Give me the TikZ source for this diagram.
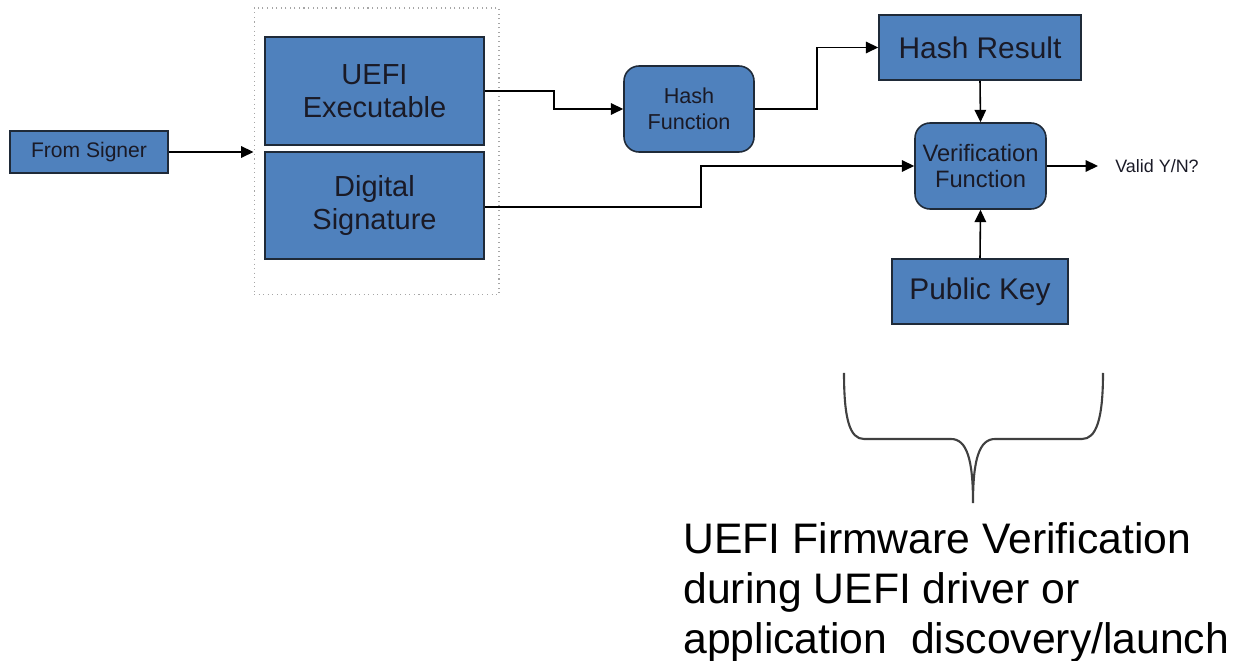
\documentclass[tikz,border=0pt]{standalone}
\usepackage{fontspec}
\setmainfont{Liberation Sans}
\usetikzlibrary{arrows.meta,positioning}
\definecolor{boxblue}{HTML}{4F81BD}
\definecolor{boxline}{HTML}{1F2A38}
\definecolor{txt}{HTML}{1A1A26}
\definecolor{bracegrey}{HTML}{404040}
\tikzset{
  blk/.style={draw=boxline, line width=0.9pt, fill=boxblue, text=txt, align=center, inner sep=0pt},
  rblk/.style={blk, rounded corners=0.3cm},
  arr/.style={draw=black, line width=0.9pt, -{Triangle[length=7pt,width=6.5pt]}},
  grpbox/.style={draw=gray!70, dotted, line width=0.6pt, inner sep=0pt},
}
\begin{document}
\begin{tikzpicture}[x=0.02cm,y=-0.02cm]
\useasboundingbox (0,0) rectangle (1240,661);
% group box
\node[grpbox, minimum width=4.9cm, minimum height=5.74cm] (grp) at (376.5,151.5) {};
% boxes
\node[blk, minimum width=3.16cm, minimum height=0.84cm, font=\fontsize{12}{14}\selectfont] (fs) at (89,152) {From Signer};
\node[blk, minimum width=4.38cm, minimum height=2.16cm, font=\fontsize{16.5}{18.5}\selectfont] (ue) at (374.5,91) {UEFI\\Executable};
\node[blk, minimum width=4.38cm, minimum height=2.14cm, font=\fontsize{16.5}{18.5}\selectfont] (ds) at (374.5,205.5) {Digital\\Signature};
\node[rblk, minimum width=2.6cm, minimum height=1.72cm, font=\fontsize{12.3}{14.8}\selectfont] (hf) at (689,109) {Hash\\Function};
\node[blk, minimum width=4.04cm, minimum height=1.3cm, font=\fontsize{17}{19}\selectfont] (hr) at (980,47.5) {Hash Result};
\node[rblk, minimum width=2.62cm, minimum height=1.72cm, font=\fontsize{13.5}{14.8}\selectfont] (vf) at (980.5,166) {Verification\\Function};
\node[blk, minimum width=3.52cm, minimum height=1.3cm, font=\fontsize{17}{19}\selectfont] (pk) at (980,291.5) {Public Key};
\node[anchor=west, inner xsep=0.34cm, inner ysep=0pt, text=txt, font=\fontsize{10.2}{12}\selectfont] (valid) at (1098,166) {Valid Y/N?};
% connectors
\draw[arr] (fs.east) -- (fs.east -| grp.west);
\draw[arr] (ue.east) -- ++(69,0) |- (hf.west);
\draw[arr] (hf.east) -- ++(62,0) |- (hr.west);
\draw[arr] (ds.east |- 0,207) -- ++(216,0) |- (vf.west);
\draw[arr] (hr.south) -- (vf.north);
\draw[arr] (pk.north) -- (vf.south);
\draw[arr] (vf.east) -- (valid.west);
% brace
\draw[bracegrey, line width=1.2pt]
  (844,373) .. controls (844,420) and (850,439) .. (864,439) -- (951,439)
  .. controls (967,439) and (973,460) .. (973,503)
  .. controls (973,460) and (979,439) .. (995,439) -- (1082,439)
  .. controls (1096,439) and (1103,420) .. (1103,373);
% caption
\node[anchor=north west, inner sep=0pt, align=left, text=black, font=\fontsize{24.3}{28.45}\selectfont] (cap) at (683,522)
  {UEFI Firmware Verification\\during UEFI driver or\\application\ \ discovery/launch};
\end{tikzpicture}
\end{document}
